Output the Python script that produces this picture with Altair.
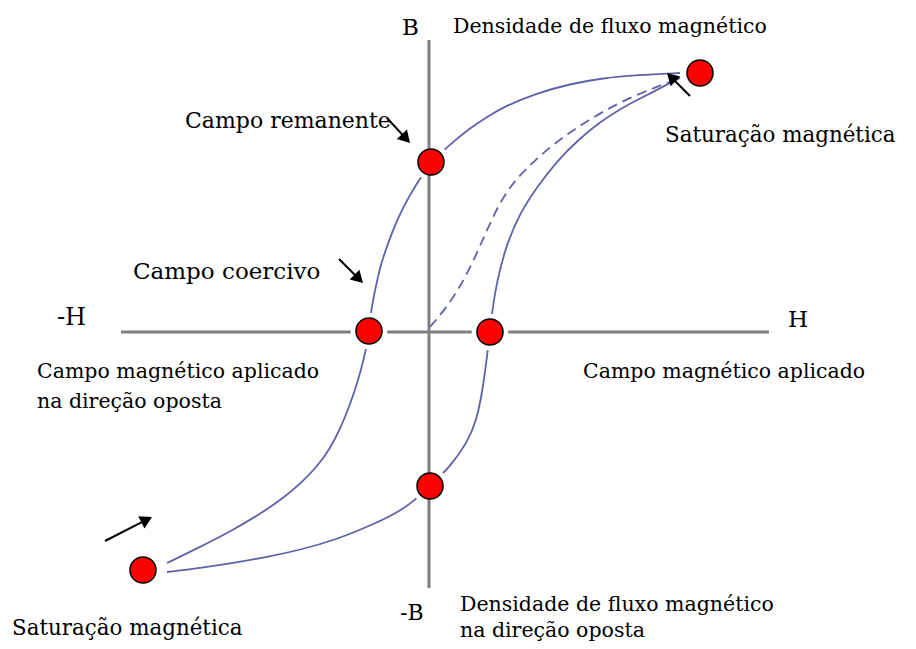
import math
import altair as alt
import pandas as pd

# ---- data (H, B units; origin at the axes crossing) ----
upper_H = [2.51, 2.08, 1.74, 1.41, 1.08, 0.74, 0.58, 0.41, 0.18, 0.02, -0.12, -0.26, -0.37, -0.46,
           -0.49, -0.54, -0.58, -0.60, -0.63, -0.68, -0.74, -0.80, -0.88, -0.99, -1.13, -1.29,
           -1.47, -1.69, -1.96, -2.29, -2.62]
upper_B = [2.58, 2.56, 2.53, 2.47, 2.38, 2.24, 2.14, 2.03, 1.84, 1.69, 1.48, 1.24, 0.99, 0.73,
           0.63, 0.41, 0.20, 0.00, -0.19, -0.39, -0.59, -0.76, -0.96, -1.18, -1.37, -1.53,
           -1.68, -1.83, -1.99, -2.16, -2.32]

lower_H = [-2.62, -2.29, -1.96, -1.62, -1.29, -0.94, -0.62, -0.34, -0.16, 0.01, 0.21, 0.38, 0.48,
           0.54, 0.58, 0.61, 0.63, 0.68, 0.78, 0.91, 1.08, 1.28, 1.49, 1.71, 1.91, 2.08, 2.26,
           2.39, 2.51]
lower_B = [-2.41, -2.37, -2.32, -2.26, -2.19, -2.09, -1.96, -1.83, -1.71, -1.55, -1.36, -1.12, -0.89,
           -0.56, -0.26, 0.00, 0.18, 0.51, 0.88, 1.18, 1.44, 1.70, 1.91, 2.09, 2.22, 2.31, 2.40,
           2.47, 2.53]

initial_H = [0.01, 0.18, 0.34, 0.48, 0.58, 0.71, 0.86, 1.06, 1.31, 1.58, 1.89, 2.24, 2.44, 2.51]
initial_B = [0.04, 0.24, 0.49, 0.78, 1.01, 1.29, 1.51, 1.71, 1.92, 2.10, 2.28, 2.43, 2.50, 2.54]

point_names = ["Saturação +", "Remanente", "Coercivo -", "Coercivo +", "Remanente -", "Saturação -"]
point_H = [2.71, 0.02, -0.60, 0.61, 0.01, -2.86]
point_B = [2.58, 1.69, 0.00, -0.01, -1.55, -2.39]

# axis lines: horizontal (H) and vertical (B)
haxis_H = [-3.08, 3.40]
haxis_B = -0.01
vaxis_H = 0.0
vaxis_B = [2.91, -2.57]

# annotation arrows: tail -> head
arrow_tail_H = [-0.42, -0.90, 2.61, -3.24]
arrow_tail_B = [2.13, 0.72, 2.35, -2.10]
arrow_head_H = [-0.19, -0.66, 2.38, -2.77]
arrow_head_B = [1.88, 0.48, 2.58, -1.86]

label_text = ["B", "Densidade de fluxo magnético", "Campo remanente", "Saturação magnética",
              "Campo coercivo", "-H", "H", "Campo magnético aplicado", "na direção oposta",
              "Campo magnético aplicado", "-B", "Densidade de fluxo magnético",
              "na direção oposta", "Saturação magnética"]
label_H = [-0.27, 0.24, -2.44, 2.36, -2.96, -3.72, 3.59, -3.92, -3.92, 1.54, -0.29, 0.31, 0.31, -4.17]
label_B = [2.96, 2.98, 2.03, 1.89, 0.52, 0.06, 0.04, -0.47, -0.77, -0.47, -2.89, -2.80, -3.06, -3.04]

# ---- styling (font size per label text) ----
FONT_SIZE = {"B": 23, "-H": 24, "H": 23, "-B": 22,
             "Campo remanente": 22, "Campo coercivo": 23,
             "Saturação magnética": 21.4}
DEFAULT_FS = 20.5

# ---- frames ----
curve_df = pd.concat([
    pd.DataFrame({"h": upper_H, "b": upper_B, "i": range(len(upper_H)), "k": "upper"}),
    pd.DataFrame({"h": lower_H, "b": lower_B, "i": range(len(lower_H)), "k": "lower"}),
])
init_df = pd.DataFrame({"h": initial_H, "b": initial_B, "i": range(len(initial_H))})
pts_df = pd.DataFrame({"name": point_names, "h": point_H, "b": point_B})
hax_df = pd.DataFrame({"h": [haxis_H[0]], "h2": [haxis_H[1]], "b": [haxis_B]})
vax_df = pd.DataFrame({"h": [vaxis_H], "b": [vaxis_B[0]], "b2": [vaxis_B[1]]})
lab_df = pd.DataFrame({"t": label_text, "h": label_H, "b": label_B})
lab_df["fs"] = [FONT_SIZE.get(t, DEFAULT_FS) for t in label_text]

HEAD_SIZE = 190
r = math.sqrt(HEAD_SIZE) / 2
half_h = math.sqrt(3) * r / 2 / 100.0  # px -> units (100 px per unit)
rows = []
for th, tb, hh, hb in zip(arrow_tail_H, arrow_tail_B, arrow_head_H, arrow_head_B):
    dx, dy = hh - th, hb - tb
    L = math.hypot(dx, dy)
    ux, uy = dx / L, dy / L
    ch, cb = hh - ux * half_h, hb - uy * half_h
    ang = math.degrees(math.atan2(ux, uy)) % 360
    rows.append({"h": th, "b": tb, "h2": ch, "b2": cb, "ch": ch, "cb": cb, "ang": ang})
arr_df = pd.DataFrame(rows)

xs = alt.Scale(domain=[-4.21, 4.79], nice=False, zero=False)
ys = alt.Scale(domain=[-3.10, 3.23], nice=False, zero=False)
X = alt.X("h:Q", scale=xs, axis=None)
Y = alt.Y("b:Q", scale=ys, axis=None)

AXIS_COLOR = "#7f7f7f"
CURVE_COLOR = "#5f62aa"

hax = alt.Chart(hax_df).mark_rule(color=AXIS_COLOR, strokeWidth=3).encode(
    x=X, x2="h2:Q", y=Y)

curves = alt.Chart(curve_df).mark_line(color=CURVE_COLOR, strokeWidth=1.8,
                                       interpolate="basis").encode(
    x=X, y=Y, order="i:Q", detail="k:N")

initial = alt.Chart(init_df).mark_line(color=CURVE_COLOR, strokeWidth=1.8, strokeDash=[10, 6],
                                       interpolate="basis").encode(x=X, y=Y, order="i:Q")

halo = alt.Chart(pts_df).mark_circle(color="white", opacity=1, size=1350).encode(x=X, y=Y)

vax = alt.Chart(vax_df).mark_rule(color=AXIS_COLOR, strokeWidth=3).encode(
    x=X, y=Y, y2="b2:Q")

dots = alt.Chart(pts_df).mark_circle(color="#ff0000", opacity=1, size=680, stroke="black",
                                     strokeWidth=1.5).encode(x=X, y=Y)

arrow_lines = alt.Chart(arr_df).mark_rule(color="black", strokeWidth=2).encode(
    x=X, x2="h2:Q", y=Y, y2="b2:Q")

arrow_heads = alt.Chart(arr_df).mark_point(shape="triangle-up", filled=True, color="black",
                                           opacity=1, size=HEAD_SIZE).encode(
    x=alt.X("ch:Q", scale=xs, axis=None),
    y=alt.Y("cb:Q", scale=ys, axis=None),
    angle=alt.Angle("ang:Q", scale=None))

labels = alt.Chart(lab_df).mark_text(align="left", baseline="alphabetic", font="DejaVu Serif",
                                     color="black").encode(
    x=X, y=Y, text="t:N", size=alt.Size("fs:Q", scale=None))

chart = alt.layer(hax, curves, initial, halo, vax, dots, arrow_lines, arrow_heads, labels).properties(
    width=900, height=633, padding=0, autosize=alt.AutoSizeParams(type="none"),
    background="white",
).configure_view(stroke=None)

chart.save("out.html", embed_options={"renderer": "svg", "actions": False})
